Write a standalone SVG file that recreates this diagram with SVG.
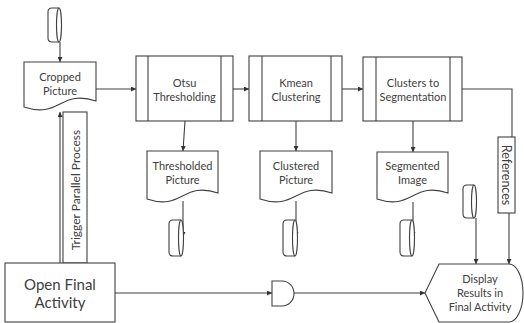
<svg xmlns="http://www.w3.org/2000/svg" width="524" height="323" viewBox="0 0 524 323">
<defs>
<marker id="ah" viewBox="0 0 6 6" refX="6" refY="3" markerWidth="5" markerHeight="5" orient="auto" markerUnits="userSpaceOnUse">
<path d="M0,0 L6,3 L0,6 Z" fill="#333"/>
</marker>
</defs>
<style>
.s{fill:#fff;stroke:#404040;stroke-width:1.1}
.c{fill:none;stroke:#404040;stroke-width:1.1}
.t{font-family:Lato,"Open Sans",sans-serif;font-size:11px;fill:#404040;text-anchor:middle}
.big{font-size:15px}
.mid{font-size:12.5px}
</style>
<rect width="524" height="323" fill="#fff"/>

<g id="connectors">
<line class="c" x1="60" y1="42" x2="60" y2="62" marker-end="url(#ah)"/>
<line class="c" x1="96" y1="89" x2="136" y2="89" marker-end="url(#ah)"/>
<line class="c" x1="233" y1="89" x2="249" y2="89" marker-end="url(#ah)"/>
<line class="c" x1="342" y1="89" x2="363" y2="89" marker-end="url(#ah)"/>
<polyline class="c" points="462,89 512,89 512,137"/>
<line class="c" x1="185" y1="121" x2="183" y2="151" marker-end="url(#ah)"/>
<line class="c" x1="296" y1="121" x2="296" y2="151" marker-end="url(#ah)"/>
<line class="c" x1="413" y1="121" x2="413" y2="152" marker-end="url(#ah)"/>
<line class="c" x1="183" y1="201" x2="183" y2="237" marker-end="url(#ah)"/>
<line class="c" x1="296" y1="201" x2="296" y2="237" marker-end="url(#ah)"/>
<line class="c" x1="413" y1="202" x2="413" y2="237" marker-end="url(#ah)"/>
<line class="c" x1="60" y1="263" x2="60" y2="112" marker-end="url(#ah)"/>
<line class="c" x1="115" y1="293" x2="272" y2="293" marker-end="url(#ah)"/>
<line class="c" x1="294" y1="293" x2="425" y2="293" marker-end="url(#ah)"/>
<line class="c" x1="476" y1="218" x2="476" y2="264" marker-end="url(#ah)"/>
<line class="c" x1="509" y1="213" x2="509" y2="264" marker-end="url(#ah)"/>
</g>

<g id="store-top">
<path class="s" d="M59,8 H52 Q48,8 48,12 V38 Q48,42 52,42 H59"/>
<ellipse class="s" cx="59" cy="25" rx="2.5" ry="17"/>
</g>

<g id="cropped-picture">
<path class="s" d="M24,62 H96 V101 C60,89 60,119 24,107 Z"/>
<text class="t" x="60" y="81">Cropped</text>
<text class="t" x="60" y="95">Picture</text>
</g>

<g id="otsu">
<rect class="s" x="136" y="56" width="97" height="65"/>
<line class="c" x1="148" y1="56" x2="148" y2="121"/>
<line class="c" x1="221" y1="56" x2="221" y2="121"/>
<text class="t" x="184.5" y="87">Otsu</text>
<text class="t" x="184.5" y="101">Thresholding</text>
</g>

<g id="kmean">
<rect class="s" x="249" y="56" width="93" height="65"/>
<line class="c" x1="262" y1="56" x2="262" y2="121"/>
<line class="c" x1="331" y1="56" x2="331" y2="121"/>
<text class="t" x="296" y="87">Kmean</text>
<text class="t" x="296" y="101">Clustering</text>
</g>

<g id="clusters">
<rect class="s" x="363" y="57" width="99" height="64"/>
<line class="c" x1="376" y1="57" x2="376" y2="121"/>
<line class="c" x1="450" y1="57" x2="450" y2="121"/>
<text class="t" x="413" y="87">Clusters to</text>
<text class="t" x="413" y="101">Segmentation</text>
</g>

<g id="thresholded-picture">
<path class="s" d="M147,151 H218 V193 C182.5,181 182.5,211 147,199 Z"/>
<text class="t" x="182.5" y="170">Thresholded</text>
<text class="t" x="182.5" y="184">Picture</text>
</g>

<g id="clustered-picture">
<path class="s" d="M260,151 H332 V193 C296,181 296,211 260,199 Z"/>
<text class="t" x="296" y="170">Clustered</text>
<text class="t" x="296" y="184">Picture</text>
</g>

<g id="segmented-image">
<path class="s" d="M377,152 H448 V193 C412.5,181 412.5,211 377,199 Z"/>
<text class="t" x="412.5" y="170">Segmented</text>
<text class="t" x="412.5" y="184">Image</text>
</g>

<g id="store-1">
<path class="s" d="M181,220 H173 Q169,220 169,224 V252 Q169,256 173,256 H181"/>
<ellipse class="s" cx="181" cy="238" rx="2.5" ry="18"/>
</g>
<g id="store-2">
<path class="s" d="M295,220 H287 Q283,220 283,224 V252 Q283,256 287,256 H295"/>
<ellipse class="s" cx="295" cy="238" rx="2.5" ry="18"/>
</g>
<g id="store-3">
<path class="s" d="M412,220 H404 Q400,220 400,224 V252 Q400,256 404,256 H412"/>
<ellipse class="s" cx="412" cy="238" rx="2.5" ry="18"/>
</g>
<g id="store-4">
<path class="s" d="M474,185 H467 Q463,185 463,189 V214 Q463,218 467,218 H474"/>
<ellipse class="s" cx="474" cy="201.5" rx="2.5" ry="16.5"/>
</g>

<g id="references">
<rect class="s" x="498" y="137" width="17" height="76"/>
<text class="t mid" transform="translate(502,175) rotate(90)">References</text>
</g>

<g id="trigger">
<rect class="s" x="63" y="112" width="24" height="151"/>
<text class="t" style="font-size:12px" transform="translate(79.5,190) rotate(-90)">Trigger Parallel Process</text>
</g>

<g id="open-final">
<rect class="s" x="5" y="263" width="110" height="59"/>
<text class="t big" x="60" y="290">Open Final</text>
<text class="t big" x="60" y="308">Activity</text>
</g>

<g id="and-gate">
<path class="s" d="M272,281 H282 A12,12.5 0 0 1 282,306 H272 Z"/>
</g>

<g id="display">
<path class="s" d="M425,293 L439,264 H509 A14,29 0 0 1 509,322 H439 Z"/>
<text class="t" x="480" y="283">Display</text>
<text class="t" x="480" y="297">Results in</text>
<text class="t" x="480" y="311">Final Activity</text>
</g>
</svg>
